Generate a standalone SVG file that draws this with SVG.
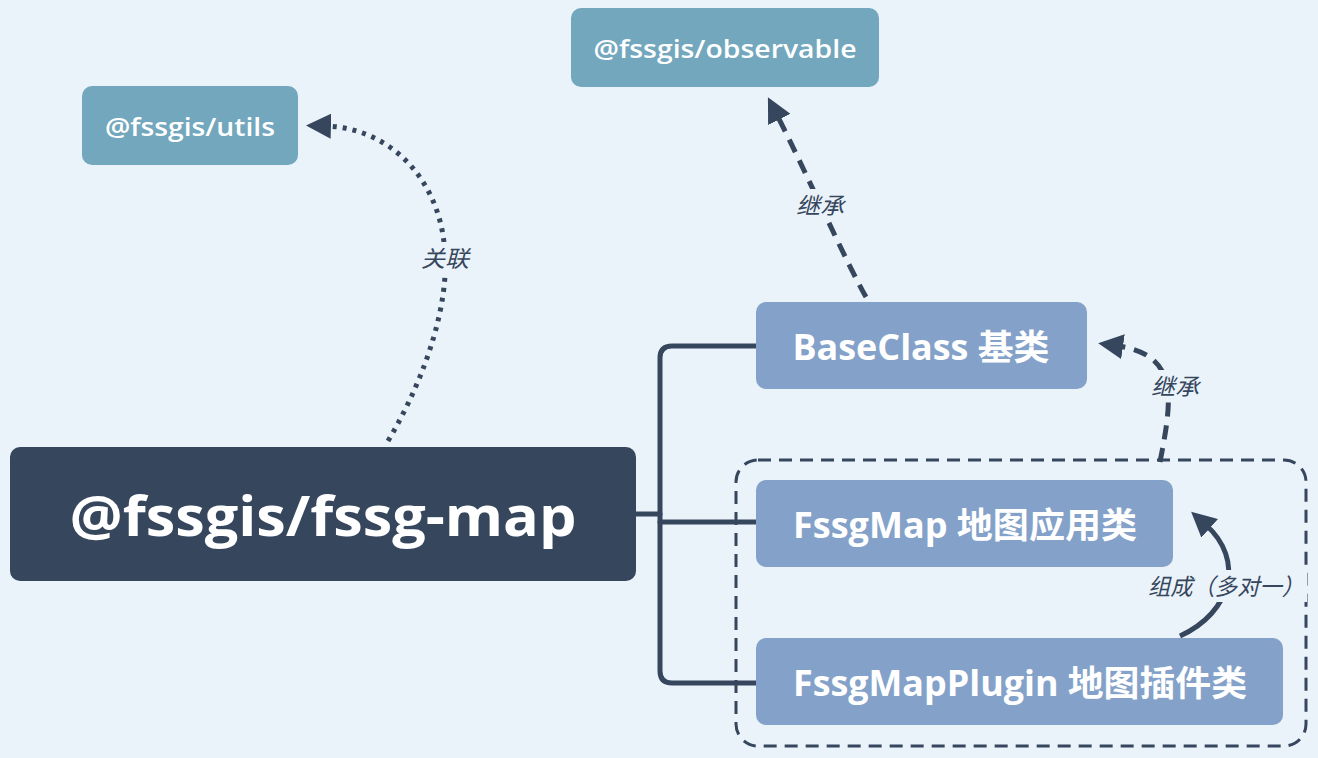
<svg xmlns="http://www.w3.org/2000/svg" width="1318" height="758" viewBox="0 0 1318 758">
<defs>
<style>
.bg{fill:#EBF3FA}
.t{font-family:"Open Sans","Noto Sans CJK SC",sans-serif;fill:#fff;text-anchor:middle;dominant-baseline:central}
.lbl{font-family:"Open Sans","Noto Sans CJK SC",sans-serif;font-style:italic;fill:#36465D;font-size:23px;text-anchor:middle;dominant-baseline:central}
.ext{fill:#72A7BD}
.cls{fill:#84A2C9}
.tree{fill:none;stroke:#36465D;stroke-width:5;stroke-linecap:round;stroke-linejoin:round}
.rel{fill:none;stroke:#36465D;stroke-width:5}
</style>
<marker id="ah" viewBox="0 0 10 10" refX="2" refY="5" markerWidth="5" markerHeight="5" markerUnits="strokeWidth" orient="auto">
<path d="M0,0 L10,5 L0,10 Z" fill="#36465D"/>
</marker>
</defs>
<rect class="bg" x="0" y="0" width="1318" height="758"/>

<g id="connectors">
<path class="tree" d="M636,514 H660"/>
<path class="tree" d="M756,346 H672 Q660,346 660,358 V671 Q660,683 672,683 H756"/>
<path class="tree" d="M660,522 H756"/>
<path class="rel" stroke-dasharray="4 6" d="M388,441 C430,370 448,300 445,255 C442,180 390,128 326,126" marker-end="url(#ah)"/>
<path class="rel" stroke-dasharray="14 9" d="M866,297 C845,260 805,170 777,115" marker-end="url(#ah)"/>
<path class="rel" stroke-dasharray="14 9" d="M1160,462 C1172,400 1180,355 1118,346" marker-end="url(#ah)"/>
<path class="rel" d="M1180,636 C1232,612 1245,560 1206,525" marker-end="url(#ah)"/>
<rect class="bg" x="418" y="242" width="56" height="32"/>
<text class="lbl" x="445" y="258" textLength="48" lengthAdjust="spacingAndGlyphs">关联</text>
<rect class="bg" x="792" y="189" width="56" height="32"/>
<text class="lbl" x="820" y="205" textLength="48" lengthAdjust="spacingAndGlyphs">继承</text>
<rect class="bg" x="1147" y="370" width="56" height="32"/>
<text class="lbl" x="1175" y="386" textLength="48" lengthAdjust="spacingAndGlyphs">继承</text>
</g>

<g id="group-boundary">
<rect x="736" y="460" width="570" height="286" rx="22" fill="none" stroke="#36465D" stroke-width="3" stroke-dasharray="13 8"/>
</g>

<g id="node-main">
<rect x="10" y="447" width="626" height="134" rx="10" fill="#36465D"/>
<text class="t" x="323" y="514" font-size="56" font-weight="bold" textLength="507" lengthAdjust="spacingAndGlyphs">@fssgis/fssg-map</text>
</g>

<g id="node-utils">
<rect class="ext" x="82" y="86" width="216" height="79" rx="10"/>
<text class="t" x="190" y="126" font-size="26" font-weight="600" textLength="170" lengthAdjust="spacingAndGlyphs">@fssgis/utils</text>
</g>

<g id="node-observable">
<rect class="ext" x="571" y="8" width="308" height="79" rx="10"/>
<text class="t" x="725" y="48" font-size="26" font-weight="600" textLength="263" lengthAdjust="spacingAndGlyphs">@fssgis/observable</text>
</g>

<g id="node-baseclass">
<rect class="cls" x="756" y="302" width="331" height="87" rx="10"/>
<text class="t" x="921" y="346" font-size="35" font-weight="bold" textLength="257" lengthAdjust="spacingAndGlyphs">BaseClass 基类</text>
</g>

<g id="node-fssgmap">
<rect class="cls" x="756" y="480" width="417" height="87" rx="10"/>
<text class="t" x="965" y="524" font-size="35" font-weight="bold" textLength="344" lengthAdjust="spacingAndGlyphs">FssgMap 地图应用类</text>
</g>

<g id="node-plugin">
<rect class="cls" x="756" y="638" width="527" height="87" rx="10"/>
<text class="t" x="1020" y="682" font-size="35" font-weight="bold" textLength="454" lengthAdjust="spacingAndGlyphs">FssgMapPlugin 地图插件类</text>
</g>

<g id="label-compose">
<rect class="bg" x="1145" y="570" width="162" height="32"/>
<text class="lbl" x="1226" y="586" textLength="156" lengthAdjust="spacingAndGlyphs">组成（多对一）</text>
</g>
</svg>
